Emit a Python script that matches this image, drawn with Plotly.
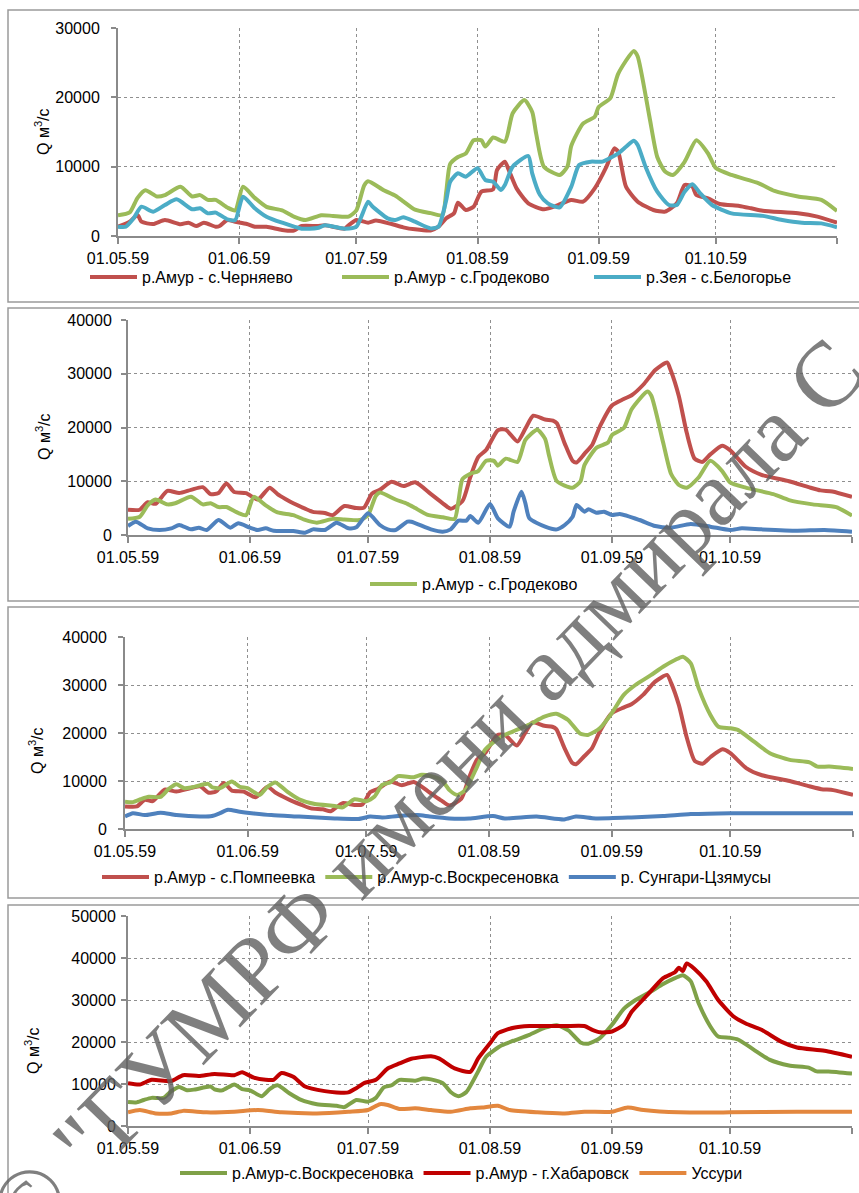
import plotly.graph_objects as go
import pandas as pd

# ---------------- data (day offset from 01.05.1959, discharge m3/s) ----------------
grod_days = [0, 3, 5, 7, 10, 12, 16, 19, 21, 23, 25, 28, 30, 32, 35, 38, 42, 45, 48, 52, 55, 59, 61, 63, 64,
             68, 71, 73, 76, 80, 83, 84, 85, 87, 89, 91, 93, 94, 96, 99, 101, 104, 106, 107, 109, 113, 115,
             116, 119, 122, 123, 126, 128, 132, 133, 136, 138, 140, 142, 145, 148, 151, 153, 157, 164, 168,
             174, 180, 184]
grod_vals = [3000, 3400, 5500, 6600, 5700, 5900, 7100, 5700, 5900, 5200, 5200, 4100, 3700, 7100, 5500, 4200,
             3700, 2800, 2300, 3000, 2900, 2800, 3700, 7300, 7900, 6600, 5800, 5000, 3800, 3300, 3000, 6400,
             10400, 11400, 11900, 13800, 13800, 12900, 14200, 13600, 17700, 19600, 17900, 14800, 10000, 8800,
             10000, 13000, 16200, 17200, 18600, 19900, 23400, 26700, 25900, 17200, 11400, 9300, 8800, 10700,
             13800, 11900, 9800, 8800, 7600, 6500, 5700, 5200, 3600]

cher_days = [0, 3, 5, 6, 9, 12, 16, 18, 20, 22, 25, 26, 28, 30, 33, 35, 38, 42, 45, 47, 51, 53, 58, 59, 61,
             64, 66, 70, 73, 76, 80, 82, 84, 86, 87, 89, 91, 93, 96, 97, 99, 100, 102, 105, 109, 112, 116,
             119, 122, 125, 127, 128, 130, 133, 137, 140, 143, 145, 147, 148, 151, 154, 159, 162, 165, 174,
             179, 184]
cher_vals = [1340, 2060, 3030, 2060, 1730, 2310, 1700, 1920, 1440, 1920, 1340, 1440, 2310, 2060, 1730, 1340,
             1340, 870, 770, 1440, 1440, 1540, 1060, 1540, 2310, 1920, 2220, 1730, 1250, 960, 800, 1340, 2550,
             3270, 4800, 3750, 4230, 6390, 6730, 9520, 10720, 9520, 6870, 4710, 3850, 4320, 5190, 4950, 6870,
             10000, 12640, 12160, 7110, 4950, 3750, 3510, 4710, 7350, 7110, 5910, 5430, 4620, 4330, 4000, 3650,
             3270, 2790, 1920]

zeya_days = [0, 2, 4, 6, 9, 12, 15, 19, 21, 23, 25, 28, 30, 32, 35, 38, 42, 47, 51, 53, 58, 61, 64, 65, 69,
             71, 73, 76, 80, 82, 84, 85, 87, 89, 92, 94, 96, 98, 99, 101, 105, 106, 108, 110, 113, 116, 118,
             121, 124, 128, 130, 132, 133, 135, 138, 141, 143, 145, 147, 149, 152, 157, 165, 170, 175, 180, 184]
zeya_vals = [1340, 1340, 2550, 4230, 3510, 4470, 5290, 3850, 4000, 3270, 3370, 2400, 2310, 5670, 4000, 2790,
             1920, 1060, 1150, 1540, 1060, 1340, 4950, 4330, 2550, 2310, 2700, 2060, 1100, 1340, 5190, 7830,
             9040, 8560, 9760, 8080, 7830, 6630, 7350, 10000, 11540, 9040, 5910, 4710, 4130, 7110, 10240,
             10720, 10720, 11920, 12880, 13750, 13120, 10000, 6390, 4470, 4470, 6390, 7480, 6150, 4470, 3270,
             2900, 2310, 1920, 1820, 1250]

pomp_days = [0, 3, 5, 7, 10, 13, 16, 19, 21, 23, 25, 27, 30, 33, 36, 38, 40, 42, 45, 47, 50, 52, 55, 58, 60,
             62, 64, 67, 70, 73, 77, 80, 82, 85, 87, 89, 91, 94, 96, 99, 101, 103, 106, 108, 109, 111, 113,
             114, 116, 118, 120, 123, 126, 128, 131, 134, 137, 138, 140, 142, 144, 146, 148, 151, 153, 157,
             161, 168, 173, 176, 179, 184]
pomp_vals = [4700, 4700, 6100, 5800, 8200, 7800, 8400, 8900, 7600, 7800, 9600, 8000, 7800, 6600, 8800, 7600,
             6700, 5900, 4900, 4300, 4100, 3700, 5400, 5000, 5100, 7700, 8400, 9900, 9100, 9800, 7600, 5900,
             4900, 6300, 10800, 14500, 15800, 19500, 19600, 17400, 19800, 22200, 21500, 21300, 20800, 17000,
             13800, 13500, 15100, 16800, 20300, 24100, 25300, 26000, 28000, 30700, 32100, 30500, 25800, 19000,
             14200, 13600, 15000, 16600, 15800, 12700, 11200, 10000, 8900, 8300, 8100, 7100]

trib_days = [0, 2, 5, 8, 11, 13, 16, 18, 20, 23, 26, 28, 31, 33, 35, 37, 42, 45, 47, 50, 53, 56, 58, 61, 64,
             66, 68, 71, 72, 77, 80, 82, 84, 86, 87, 89, 92, 94, 97, 98, 100, 101, 102, 106, 109, 111, 113,
             114, 116, 117, 119, 121, 123, 125, 130, 134, 138, 143, 148, 153, 156, 161, 170, 177, 184]
trib_vals = [1670, 2480, 1240, 930, 1240, 1860, 1050, 1360, 930, 2790, 1360, 2170, 1360, 930, 1240, 800, 740,
             430, 1050, 930, 2290, 1240, 1430, 4030, 1860, 1050, 930, 2480, 2480, 1050, 620, 1050, 2670, 2670,
             3530, 2290, 5770, 3100, 1550, 4340, 8060, 5890, 3100, 1550, 1050, 1860, 3410, 5580, 4340, 4770,
             4150, 4340, 3720, 3910, 2790, 1670, 1360, 2050, 1550, 930, 1240, 1050, 800, 930, 620]

vosk_days = [0, 2, 4, 6, 9, 11, 13, 15, 17, 21, 22, 24, 27, 29, 31, 34, 36, 38, 41, 44, 48, 53, 55, 58, 61,
             63, 65, 67, 69, 73, 75, 77, 80, 82, 84, 86, 89, 91, 95, 98, 102, 106, 109, 112, 115, 117, 120,
             123, 126, 129, 133, 136, 139, 141, 143, 145, 148, 150, 153, 155, 159, 163, 168, 173, 175, 178, 184]
vosk_vals = [5700, 5600, 6200, 6700, 6700, 8300, 9300, 8500, 8700, 9400, 8700, 8500, 9900, 8800, 8500, 7100,
             8800, 9700, 7800, 6200, 5200, 4800, 4500, 6200, 5800, 6700, 9200, 9700, 11000, 10800, 11300,
             11100, 10200, 8100, 7100, 8100, 13000, 16500, 19200, 20300, 21700, 23400, 24000, 22700, 19900,
             19600, 21000, 24100, 27900, 30000, 32100, 33800, 35200, 35900, 34500, 29300, 23700, 21300, 21000,
             20600, 18200, 15800, 14400, 13900, 13000, 13000, 12500]

sung_days = [0, 2, 5, 9, 13, 19, 22, 24, 26, 29, 32, 37, 44, 53, 59, 62, 65, 69, 74, 77, 82, 87, 93, 96,
             104, 111, 114, 119, 128, 136, 143, 153, 184]
sung_vals = [2600, 3300, 2900, 3400, 2900, 2600, 2700, 3300, 4000, 3600, 3300, 2900, 2600, 2200, 2100, 2600,
             2400, 2700, 2900, 2600, 2200, 2200, 2700, 2200, 2600, 2000, 2600, 2200, 2400, 2700, 3100, 3300,
             3300]

khab_days = [0, 3, 6, 11, 14, 18, 22, 27, 29, 32, 35, 37, 39, 42, 45, 50, 53, 56, 58, 60, 63, 66, 69, 72, 77,
             79, 83, 87, 89, 92, 94, 98, 102, 111, 116, 118, 120, 123, 126, 128, 132, 136, 139, 140, 141, 142,
             144, 147, 150, 154, 157, 161, 166, 170, 177, 184]
khab_vals = [10200, 9900, 11000, 10700, 12100, 11900, 12400, 12100, 12800, 11500, 11000, 11000, 12600, 11700,
             9400, 8300, 8000, 8000, 9000, 10200, 11000, 13700, 14900, 16000, 16600, 16100, 13700, 12900,
             16100, 19700, 22100, 23400, 23800, 23800, 23800, 22900, 22300, 22500, 24100, 27200, 31200, 35200,
             36600, 37700, 36900, 38700, 37400, 34400, 30000, 26000, 24400, 22900, 20100, 18700, 17900, 16500]

uss_days = [0, 3, 7, 11, 14, 20, 27, 33, 39, 48, 56, 61, 64, 66, 69, 73, 77, 82, 87, 90, 94, 97, 104, 111,
            116, 123, 127, 131, 140, 153, 170, 184]
uss_vals = [3250, 3800, 3000, 3000, 3600, 3250, 3400, 3800, 3250, 3000, 3400, 3800, 5200, 5000, 4050, 4200,
            3800, 3400, 4200, 4400, 4800, 3800, 3250, 3000, 3400, 3400, 4400, 3800, 3250, 3250, 3400, 3400]

tick_dates = ['1959-05-01', '1959-06-01', '1959-07-01', '1959-08-01', '1959-09-01', '1959-10-01', '1959-11-01']
tick_labels = ['01.05.59', '01.06.59', '01.07.59', '01.08.59', '01.09.59', '01.10.59', ' ']

# ---------------- styling / layout helpers ----------------
W, H = 859, 1193
FONT = 'Liberation Sans'
FS = 16
BASE = pd.Timestamp('1959-05-01')


def to_dates(days):
    return [BASE + pd.Timedelta(days=d) for d in days]


def pxx(x):
    return x / W


def pxy(y):
    return 1 - y / H


RED = '#C0504D'
GREEN = '#9BBB59'
CYAN = '#4BACC6'
BLUE = '#4F81BD'
DRED = '#C00000'
DGREEN = '#7FA148'
ORANGE = '#E3873E'

# plot areas in pixels: left, top, right, bottom
panels = [
    dict(l=118, t=28, r=837, b=236, ymax=30000, stand=8, title=(42, 132), box=(8, 10, 875, 302),
         legy=277, legx=90, entry=190),
    dict(l=128, t=320, r=852, b=535, ymax=40000, stand=6, title=(43, 437), box=(8, 308, 875, 601),
         legy=584, legx=370, entry=None),
    dict(l=125, t=637, r=853, b=829, ymax=40000, stand=8, title=(36, 751), box=(8, 607, 875, 898),
         legy=877, legx=102, entry=None),
    dict(l=128, t=916, r=852, b=1126, ymax=50000, stand=2, title=(32, 1051), box=(8, 905, 875, 1210),
         legy=1173, legx=180, entry=None),
]

series = [
    # (panel, name, days, vals, color, showlegend)
    (1, 'р.Амур - с.Черняево', cher_days, cher_vals, RED, True),
    (1, 'р.Амур - с.Гродеково', grod_days, grod_vals, GREEN, True),
    (1, 'р.Зея - с.Белогорье', zeya_days, zeya_vals, CYAN, True),
    (2, 'р.Амур - с.Помпеевка', pomp_days, pomp_vals, RED, False),
    (2, 'р.Амур - с.Гродеково', grod_days, grod_vals, GREEN, True),
    (2, 'приток', trib_days, trib_vals, BLUE, False),
    (3, 'р.Амур - с.Помпеевка', pomp_days, pomp_vals, RED, True),
    (3, 'р.Амур-с.Воскресеновка', vosk_days, vosk_vals, GREEN, True),
    (3, 'р. Сунгари-Цзямусы', sung_days, sung_vals, BLUE, True),
    (4, 'р.Амур-с.Воскресеновка', vosk_days, vosk_vals, DGREEN, True),
    (4, 'р.Амур - г.Хабаровск', khab_days, khab_vals, DRED, True),
    (4, 'Уссури', uss_days, uss_vals, ORANGE, True),
]

fig = go.Figure()
for p, name, days, vals, color, show in series:
    sfx = '' if p == 1 else str(p)
    fig.add_trace(go.Scatter(
        x=to_dates(days), y=vals, name=name, mode='lines',
        line=dict(color=color, width=4, shape='spline', smoothing=0.6),
        xaxis='x' + sfx, yaxis='y' + sfx,
        legend='legend' + sfx, showlegend=show,
    ))

layout = dict(
    width=W, height=H, margin=dict(l=0, r=0, t=0, b=0, autoexpand=False),
    paper_bgcolor='white', plot_bgcolor='white',
    font=dict(family=FONT, size=FS, color='black'),
    shapes=[], annotations=[],
)

for i, pn in enumerate(panels, start=1):
    sfx = '' if i == 1 else str(i)
    layout['xaxis' + sfx] = dict(
        domain=[pxx(pn['l']), pxx(pn['r'])], anchor='y' + sfx, type='date', automargin=False,
        range=['1959-05-01', '1959-11-01'], tickmode='array', tickvals=tick_dates, ticktext=tick_labels,
        showgrid=True, gridcolor='#8f8f8f', griddash='dot', gridwidth=1,
        showline=True, linecolor='#8a8a8a', linewidth=2,
        ticks='outside', ticklen=6, tickwidth=1.5, tickcolor='#8a8a8a',
        zeroline=False, ticklabelstandoff=1, tickfont=dict(family=FONT, size=FS, color='black'),
    )
    layout['yaxis' + sfx] = dict(
        domain=[pxy(pn['b']), pxy(pn['t'])], anchor='x' + sfx, automargin=False,
        range=[0, pn['ymax']], dtick=10000, tickformat='d',
        showgrid=True, gridcolor='#8f8f8f', griddash='dot', gridwidth=1,
        showline=True, linecolor='#8a8a8a', linewidth=2,
        ticks='outside', ticklen=5, tickwidth=1.5, tickcolor='#8a8a8a',
        zeroline=False, ticklabelstandoff=pn['stand'], tickfont=dict(family=FONT, size=FS, color='black'),
    )
    leg = dict(
        orientation='h', x=pxx(pn['legx'] - 5), y=pxy(pn['legy']), xanchor='left', yanchor='middle',
        font=dict(family=FONT, size=FS, color='black'), bgcolor='rgba(0,0,0,0)', itemwidth=47,
        tracegroupgap=0,
    )
    if pn['entry']:
        leg['entrywidth'] = pn['entry']
        leg['entrywidthmode'] = 'pixels'
    layout['legend' + sfx] = leg
    bx0, by0, bx1, by1 = pn['box']
    layout['shapes'].append(dict(
        type='rect', xref='paper', yref='paper', x0=pxx(bx0), x1=pxx(bx1), y0=pxy(by1), y1=pxy(by0),
        line=dict(color='#9a9a9a', width=1.5), fillcolor='rgba(0,0,0,0)', layer='below',
    ))
    tx, ty = pn['title']
    layout['annotations'].append(dict(
        text='Q м<sup>3</sup>/с', xref='paper', yref='paper', x=pxx(tx), y=pxy(ty),
        showarrow=False, textangle=-90, font=dict(family=FONT, size=FS, color='black'),
        xanchor='center', yanchor='middle',
    ))

# watermark
layout['annotations'].append(dict(
    text='© "ГУМРФ имени адмирала С', xref='paper', yref='paper', x=pxx(425), y=pxy(790),
    showarrow=False, textangle=-46, font=dict(family='Liberation Serif', size=93, color='rgba(95,95,95,0.8)'),
    xanchor='center', yanchor='middle',
))

fig.update_layout(**layout)
fig.write_html('out.html')
